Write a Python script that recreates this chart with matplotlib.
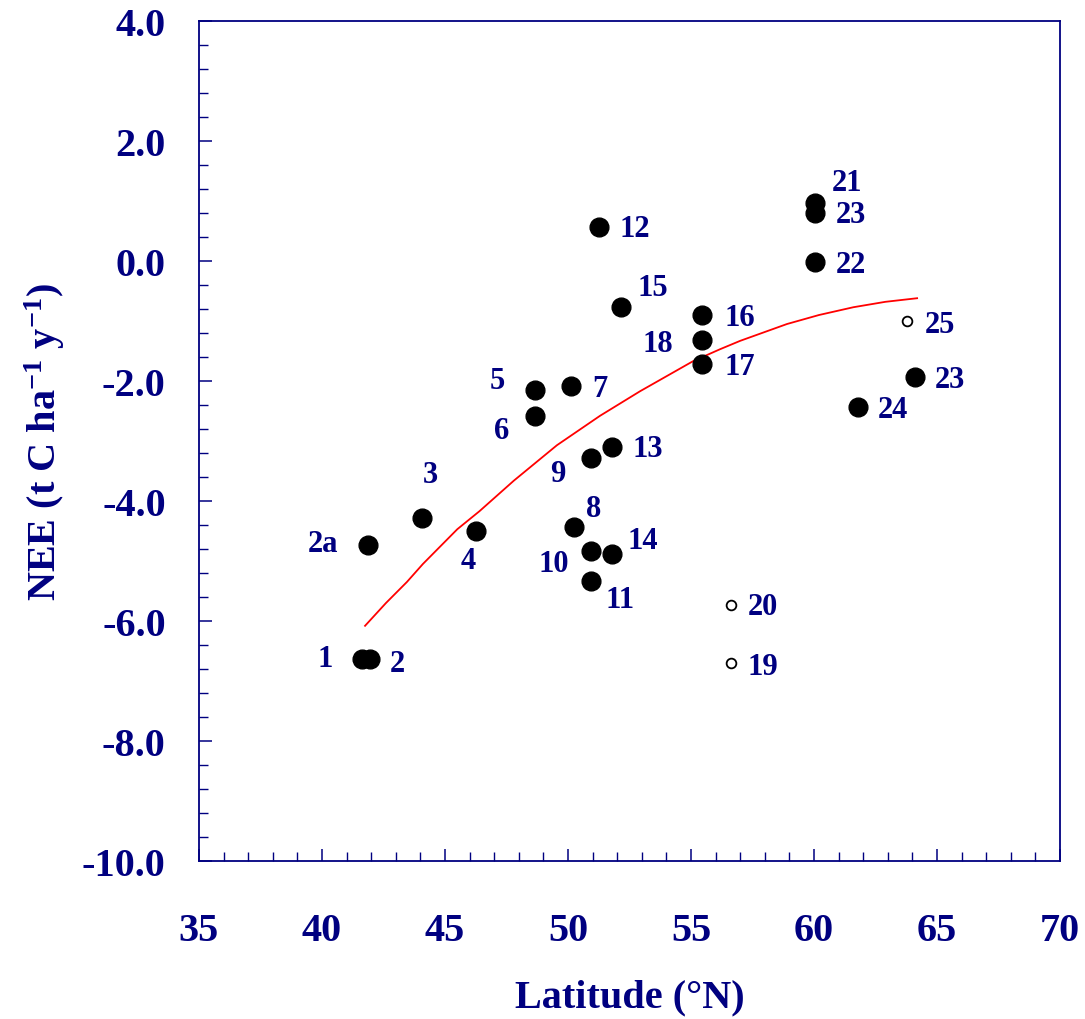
import matplotlib
matplotlib.use("Agg")
import matplotlib.pyplot as plt
from matplotlib.ticker import MultipleLocator

# ---- data ----
site_labels = ["1", "2", "2a", "3", "4", "5", "6", "7", "8", "9", "10", "11",
               "12", "13", "14", "15", "16", "17", "18", "19", "20", "21",
               "23", "22", "24", "23", "25"]
latitude = [41.63, 41.95, 41.87, 44.07, 46.26, 48.66, 48.66, 50.12, 50.24,
            50.93, 50.93, 50.93, 51.26, 51.79, 51.79, 52.15, 55.45, 55.45,
            55.45, 56.63, 56.63, 60.04, 60.04, 60.04, 61.79, 64.10, 63.78]
nee = [-6.63, -6.63, -4.73, -4.28, -4.50, -2.15, -2.58, -2.08, -4.43,
       -3.28, -4.83, -5.33, 0.57, -3.10, -4.88, -0.77, -0.90, -1.72,
       -1.32, -6.70, -5.73, 0.97, 0.80, -0.02, -2.43, -1.93, -1.00]
open_marker = [False] * 19 + [True, True] + [False] * 5 + [True]

# fitted trend curve
curve_lat = [41.75, 42.60, 43.45, 44.10, 45.50, 46.40, 47.80, 49.55, 51.30,
             52.93, 55.08, 56.18, 57.00, 58.90, 60.20, 61.60, 62.90, 64.19]
curve_nee = [-6.08, -5.70, -5.35, -5.05, -4.47, -4.17, -3.66, -3.07, -2.58,
             -2.17, -1.67, -1.47, -1.33, -1.05, -0.90, -0.77, -0.68, -0.62]

# label offsets in pixels (dx right, dy down) -- styling only
label_offsets_px = [(-37, 0), (27, 5), (-45, -1), (8, -43), (-8, 29),
                    (-38, -10), (-33, 15), (29, 3), (20, -18), (-33, 16),
                    (-37, 13), (29, 19), (36, 2), (36, 1), (31, -13),
                    (32, -20), (38, 2), (38, 2), (-44, 3), (32, 3),
                    (32, 2), (32, -20), (36, 1), (36, 2), (35, 3),
                    (35, 3), (33, 3)]

NAVY = "#000080"
plt.rcParams["font.family"] = ["Liberation Serif", "DejaVu Serif"]
plt.rcParams["font.weight"] = "bold"
plt.rcParams["mathtext.fontset"] = "custom"
plt.rcParams["mathtext.rm"] = "Liberation Serif:bold"
plt.rcParams["mathtext.bf"] = "Liberation Serif:bold"
plt.rcParams["mathtext.it"] = "Liberation Serif:bold"
plt.rcParams["mathtext.default"] = "bf"

fig = plt.figure(figsize=(10.85, 10.2), dpi=100)
ax = fig.add_axes([0.1834, 0.1549, 0.7936, 0.8235])

ax.plot(curve_lat, curve_nee, color="red", lw=1.3, zorder=2)

for x, y, is_open in zip(latitude, nee, open_marker):
    if is_open:
        ax.plot(x, y, "o", ms=7, mfc="white", mec="black", mew=1.3, zorder=3)
    else:
        ax.plot(x, y, "o", ms=13.5, mfc="black", mec="black", zorder=3)

for x, y, lab, (dx, dy) in zip(latitude, nee, site_labels, label_offsets_px):
    ax.annotate(lab, (x, y), xytext=(dx * 0.72, -dy * 0.72),
                textcoords="offset points", ha="center", va="center",
                fontsize=22, fontweight="bold", color=NAVY, zorder=4)

ax.set_xlim(35, 70)
ax.set_ylim(-10, 4)
ax.xaxis.set_major_locator(MultipleLocator(5))
ax.xaxis.set_minor_locator(MultipleLocator(1))
ax.yaxis.set_minor_locator(MultipleLocator(0.4))
ax.set_yticks([4, 2, 0, -2, -4, -6, -8, -10])
ax.set_yticklabels(["4.0", "2.0", "0.0", "-2.0", "-4.0", "-6.0", "-8.0", "-10.0"])

for sp in ax.spines.values():
    sp.set_color(NAVY)
    sp.set_linewidth(1.3)

ax.tick_params(axis="both", which="both", direction="in", colors=NAVY,
               top=False, right=False)
ax.tick_params(axis="both", which="major", length=9, width=1.1,
               labelsize=29, labelcolor=NAVY)
ax.tick_params(axis="both", which="minor", length=6.5, width=1.0)
ax.tick_params(axis="x", which="major", pad=37)
ax.tick_params(axis="y", which="major", pad=24)
for t in ax.get_xticklabels() + ax.get_yticklabels():
    t.set_fontweight("bold")

fig.text(629.5 / 1085, 1 - 998 / 1020, "Latitude (°N)", fontsize=29,
         fontweight="bold", color=NAVY, ha="center", va="center")
fig.text(45 / 1085, 1 - 442 / 1020,
         r"NEE (t C ha$^{-1}$ y$^{-1}$)", fontsize=29, fontweight="bold",
         color=NAVY, ha="center", va="center", rotation=90)

fig.savefig("out.png", dpi=100, facecolor="white")
